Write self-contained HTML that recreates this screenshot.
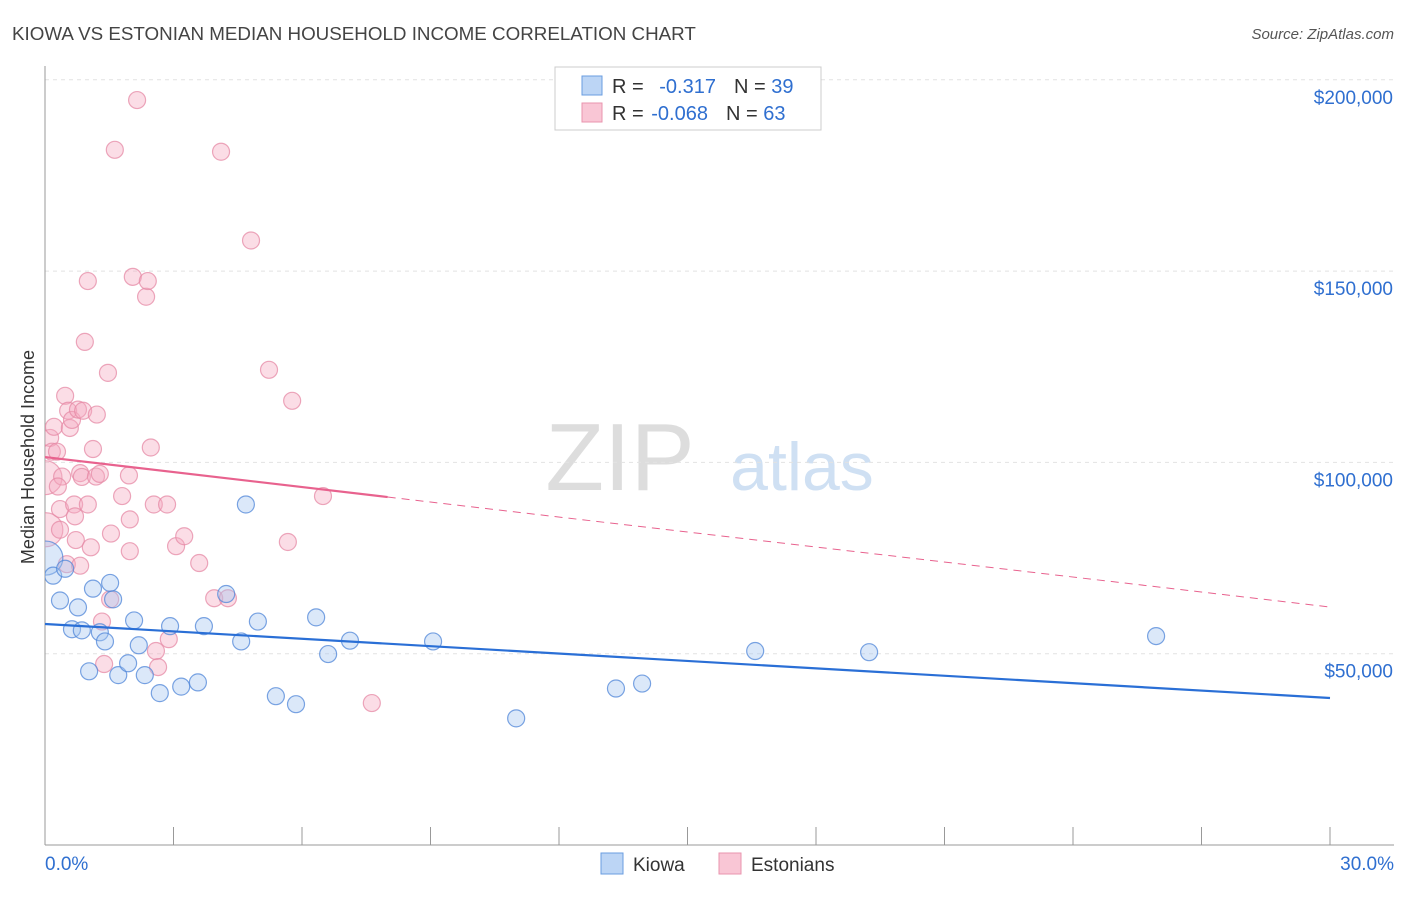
<!DOCTYPE html>
<html><head><meta charset="utf-8"><style>
body{margin:0;background:#fff;font-family:"Liberation Sans",sans-serif;}
svg text{font-family:"Liberation Sans",sans-serif;}
</style></head><body>
<svg id="chart" width="1406" height="892">
<defs><clipPath id="plotclip"><rect x="45" y="60" width="1360" height="785"/></clipPath></defs>
<text x="12" y="40" font-size="18.8" fill="#444">KIOWA VS ESTONIAN MEDIAN HOUSEHOLD INCOME CORRELATION CHART</text>
<text x="1394" y="39" font-size="15" fill="#555" font-style="italic" text-anchor="end">Source: ZipAtlas.com</text>
<text x="0" y="0" transform="translate(34,457) rotate(-90)" font-size="18" fill="#333" text-anchor="middle">Median Household Income</text>
<text x="620" y="490" font-size="96" fill="#ddd" font-family="Liberation Serif" text-anchor="middle">ZIP</text>
<text x="802" y="490" font-size="68" fill="#cfe0f3" text-anchor="middle">atlas</text>
<g id="grid"></g><g id="axes"></g><g id="pts" clip-path="url(#plotclip)"></g><g id="lines"></g>
<g>
<rect x="555" y="67" width="266" height="63" fill="#fff" stroke="#ccc"/>
<rect x="582" y="76" width="20" height="19" fill="#bcd5f5" stroke="#6a9de0"/>
<rect x="582" y="103" width="20" height="19" fill="#f9c6d5" stroke="#e994ae"/>
<text x="612" y="93" font-size="20" fill="#333">R = <tspan fill="#2f6fd0" dx="10">-0.317</tspan><tspan fill="#333" dx="18">N = </tspan><tspan fill="#2f6fd0">39</tspan></text>
<text x="612" y="120" font-size="20" fill="#333">R = <tspan fill="#2f6fd0" dx="2">-0.068</tspan><tspan fill="#333" dx="18">N = </tspan><tspan fill="#2f6fd0">63</tspan></text>
</g>
<g>
<rect x="601" y="853" width="22" height="21" fill="#bcd5f5" stroke="#6a9de0"/>
<text x="633" y="871" font-size="19" fill="#333">Kiowa</text>
<rect x="719" y="853" width="22" height="21" fill="#f9c6d5" stroke="#e994ae"/>
<text x="751" y="871" font-size="19" fill="#333">Estonians</text>
</g>
</svg>
<script>
const yTicks=[50000,100000,150000,200000];
const yTickLabels=["$50,000","$100,000","$150,000","$200,000"];
const xTickLabels=["0.0%","30.0%"];
const kiowaX=[0.02,0.19,0.35,0.47,0.63,0.77,0.86,1.03,1.12,1.28,1.4,1.52,1.59,1.71,1.94,2.08,2.19,2.33,2.68,2.92,3.18,3.57,3.71,4.23,4.58,4.69,4.97,5.39,5.86,6.33,6.61,7.12,9.06,11.0,13.33,13.94,16.58,19.24,25.94];
const kiowaY=[75000,70400,63900,72200,56400,62100,56100,45400,67000,55600,53200,68500,64200,44400,47500,58700,52200,44400,39700,57200,41400,42500,57200,65600,53200,89000,58400,38900,36800,59500,49900,53400,53200,33100,40900,42200,50700,50400,54600];
const estX=[0.02,0.0,0.12,0.16,0.21,0.28,0.35,0.35,0.4,0.47,0.51,0.54,0.58,0.63,0.68,0.72,0.77,0.82,0.82,0.86,0.89,0.93,1.0,1.0,1.07,1.12,1.19,1.21,1.33,1.38,1.47,1.52,1.54,1.63,1.8,1.96,1.98,1.98,2.05,2.15,2.36,2.4,2.47,2.54,2.59,2.64,2.85,2.89,3.06,3.25,3.6,3.95,4.11,4.27,4.81,5.23,5.67,5.77,6.49,7.63,1.28,0.30,0.70];
const estY=[82400,96000,106400,102800,109300,102800,82400,87800,96300,117400,73400,113500,109000,111100,89000,79700,113800,73000,97200,96200,113500,131500,147400,89000,77800,103500,96300,112500,58400,47300,123400,64200,81400,181700,91200,96600,85100,76800,148500,194700,143300,147400,103900,89000,50700,46500,89000,53800,78100,80700,73700,64500,181200,64500,158000,124200,79200,116100,91200,37100,97000,93700,85900];
const X0=45,X1=1330,Y0=845,PPY=191.3/50000;
const xs=v=>X0+v*(X1-X0)/30, ys=v=>Y0-v*PPY;
const NS="http://www.w3.org/2000/svg";
function mk(t,a,p){const e=document.createElementNS(NS,t);for(const k in a)e.setAttribute(k,a[k]);p.appendChild(e);return e;}
const grid=document.getElementById('grid'),axes=document.getElementById('axes'),pts=document.getElementById('pts'),lines=document.getElementById('lines');
yTicks.forEach((v,i)=>{
 const l=mk('line',{x1:X0,x2:1394,y1:ys(v),y2:ys(v),stroke:'#e2e2e2','stroke-dasharray':'4,4'},grid);
 
 
 const t=mk('text',{x:1393,y:ys(v)+24,'font-size':19,fill:'#2f6fd0','text-anchor':'end'},axes);t.textContent=yTickLabels[i];
 
 
});
const ax=mk('line',{x1:X0,x2:1394,y1:Y0,y2:Y0,stroke:'#999'},axes);


const ay=mk('line',{x1:X0,x2:X0,y1:66,y2:Y0,stroke:'#999'},axes);


for(let i=0;i<=10;i++){const tk=mk('line',{x1:xs(i*3),x2:xs(i*3),y1:827,y2:Y0,stroke:'#999'},axes);
 
 }
[[0,'start',45],[30,'end',1394]].forEach((d,i)=>{const t=mk('text',{x:d[2],y:870,'font-size':19,fill:'#2f6fd0','text-anchor':d[1]},axes);t.textContent=xTickLabels[i];
 
 });
function dots(X,Y,fill,stroke,name){X.forEach((x,i)=>{const r=(i<2&&name=='estonian-point')||(i==0&&name=='kiowa-point')?17:8.5;
 const c=mk('circle',{cx:xs(x),cy:ys(Y[i]),r:r,fill:fill,'fill-opacity':0.4,stroke:stroke,'stroke-opacity':0.75,'stroke-width':1.2},pts);
 
 });}
dots(estX,estY,'#f4a9c0','#e58aa6','estonian-point');
dots(kiowaX,kiowaY,'#a6c6f0','#4f86d8','kiowa-point');
const kTrend=[57770,38426],eTrend=[101400,62200];
const bl=mk('line',{x1:xs(0),y1:ys(kTrend[0]),x2:xs(30),y2:ys(kTrend[1]),stroke:'#2a6fd6','stroke-width':2.2},lines);


const eAt=x=>eTrend[0]+(eTrend[1]-eTrend[0])*x/30;
const pl=mk('line',{x1:xs(0),y1:ys(eAt(0)),x2:xs(8),y2:ys(eAt(8)),stroke:'#e8628e','stroke-width':2.2},lines);


const pd=mk('line',{x1:xs(8),y1:ys(eAt(8)),x2:xs(30),y2:ys(eAt(30)),stroke:'#e8628e','stroke-width':1,'stroke-dasharray':'8,6'},lines);


</script>
</body></html>
